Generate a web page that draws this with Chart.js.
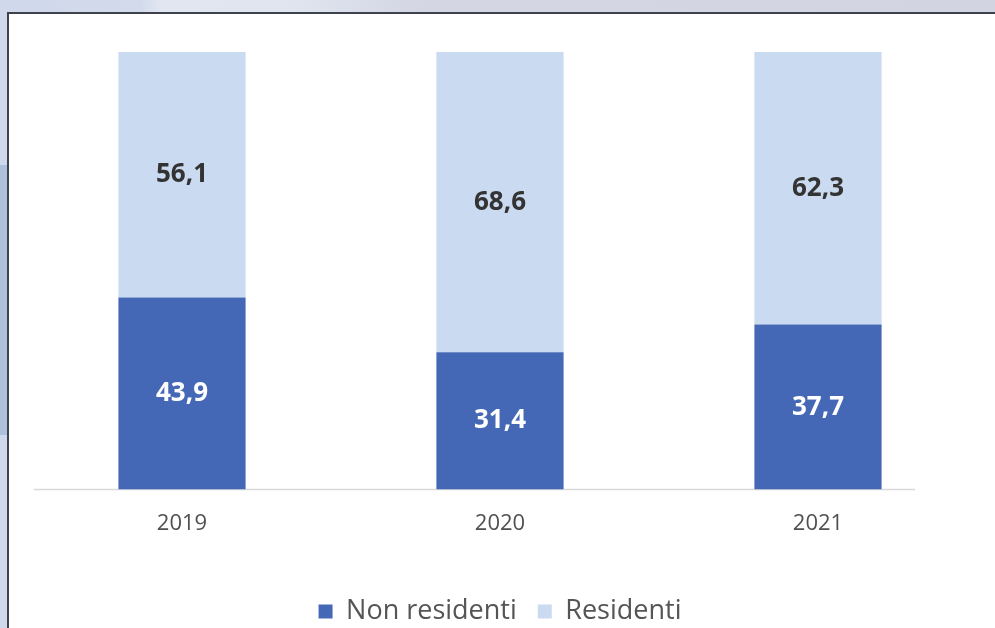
<!DOCTYPE html>
<html>
<head>
<meta charset="utf-8">
<script src="https://cdn.jsdelivr.net/npm/chart.js@4"></script>
<style>
html,body{margin:0;padding:0;width:995px;height:628px;overflow:hidden;}
body{background:linear-gradient(90deg,#d0d9eb 0px,#d2daeb 140px,#e1e6f1 160px,#dfe4ef 300px,#d4d6e3 420px,#d3d4e1 995px);position:relative;}
#band{position:absolute;left:0;top:165px;width:7px;height:270px;background:#adc0dc;}
#panel{position:absolute;left:7px;top:12px;right:-10px;bottom:-10px;background:#fff;border-top:2px solid #3d424c;border-left:2px solid #3d424c;}
#c{position:absolute;left:0;top:0;}
</style>
</head>
<body>
<div id="band"></div>
<div id="panel"></div>
<canvas id="c" width="995" height="628"></canvas>
<script>
const categories = ["2019", "2020", "2021"];
const nonResidenti = [43.9, 31.4, 37.7];
const residenti = [56.1, 68.6, 62.3];
const seriesNames = ["Non residenti", "Residenti"];

const labelPlugin = {
  id: 'centerLabels',
  afterDatasetsDraw(chart) {
    const ctx = chart.ctx;
    ctx.save();
    ctx.font = 'bold 26px "Open Sans"';
    ctx.textAlign = 'center';
    ctx.textBaseline = 'middle';
    chart.data.datasets.forEach((ds, di) => {
      const meta = chart.getDatasetMeta(di);
      meta.data.forEach((bar, i) => {
        const v = ds.data[i];
        const yc = (bar.y + bar.base) / 2;
        ctx.fillStyle = di === 0 ? '#ffffff' : '#333333';
        ctx.fillText(v.toFixed(1).replace('.', ','), bar.x, yc);
      });
    });
    ctx.restore();
  }
};

const baselinePlugin = {
  id: 'baseline',
  beforeDatasetsDraw(chart) {
    const ctx = chart.ctx;
    const y = chart.scales.y.getPixelForValue(0);
    const x = chart.scales.x;
    const step = x.getPixelForValue(1) - x.getPixelForValue(0);
    ctx.save();
    ctx.strokeStyle = '#d9d9d9';
    ctx.lineWidth = 1.5;
    ctx.beginPath();
    ctx.moveTo(x.getPixelForValue(0) - step * 0.466, y);
    ctx.lineTo(x.getPixelForValue(2) + step * 0.305, y);
    ctx.stroke();
    ctx.restore();
  }
};

new Chart(document.getElementById('c'), {
  type: 'bar',
  data: {
    labels: categories,
    datasets: [
      { label: seriesNames[0], data: nonResidenti, backgroundColor: '#4468b6', barPercentage: 0.4, categoryPercentage: 1 },
      { label: seriesNames[1], data: residenti, backgroundColor: '#cadbf1', barPercentage: 0.4, categoryPercentage: 1 }
    ]
  },
  options: {
    responsive: false,
    animation: false,
    layout: { padding: { left: 23, right: 18, top: 52, bottom: -7 } },
    plugins: {
      legend: {
        position: 'bottom',
        labels: { font: { family: 'Open Sans', size: 27 }, color: '#555555', boxWidth: 14, boxHeight: 14, padding: 21 }
      },
      tooltip: { enabled: false }
    },
    scales: {
      x: {
        stacked: true,
        grid: { display: false },
        border: { display: false },
        ticks: { font: { family: 'Open Sans', size: 22 }, color: '#505050', padding: 13 },
        afterFit(scale) { scale.height += 27; }
      },
      y: {
        stacked: true,
        min: 0, max: 100,
        display: false
      }
    }
  },
  plugins: [baselinePlugin, labelPlugin]
});
</script>
</body>
</html>
